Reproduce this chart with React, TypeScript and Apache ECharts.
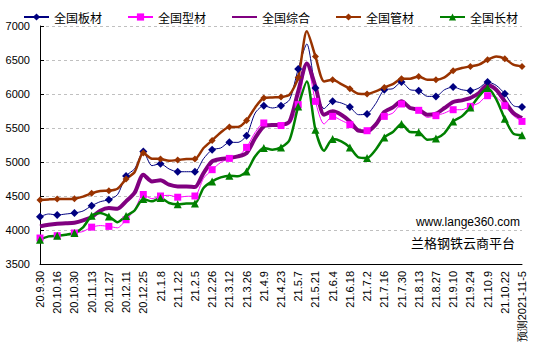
import React, { useEffect, useRef } from "react";
import * as echarts from "echarts";

const categories = [
  "20.9.30","20.10.9","20.10.16","20.10.23","20.10.30","20.11.6","20.11.13","20.11.20","20.11.27","20.12.4",
  "20.12.11","20.12.18","20.12.25","21.1.1","21.1.8","21.1.15","21.1.22","21.1.29","21.2.5","21.2.19",
  "21.2.26","21.3.5","21.3.12","21.3.19","21.3.26","21.4.2","21.4.9","21.4.16","21.4.23","21.4.30",
  "21.5.7","21.5.14","21.5.21","21.5.28","21.6.4","21.6.11","21.6.18","21.6.25","21.7.2","21.7.9",
  "21.7.16","21.7.23","21.7.30","21.8.6","21.8.13","21.8.20","21.8.27","21.9.3","21.9.10","21.9.17",
  "21.9.24","21.9.30","21.10.9","21.10.15","21.10.22","21.10.29","预测2021-11-5"
];

const banCai = [
  4196,4235,4221,4235,4250,4279,4357,4416,4446,4519,4794,4901,5156,4946,
  4975,4897,4857,4857,4857,5049,5181,5206,5289,5289,5387,5720,5828,5794,5828,
  5916,6368,6735,6087,5784,5892,5868,5809,5696,5706,5858,6063,6078,6176,
  6063,6049,5965,5965,6063,6103,6063,6049,6088,6176,6127,6004,5828,5809
];

const xingCai = [
  3882,3906,3916,3935,3956,3978,4042,4065,4053,4032,4151,4299,4522,4460,
  4500,4510,4482,4495,4500,4760,4887,4994,5053,5083,5215,5435,5574,5538,5536,
  5559,5843,6470,5892,5559,5671,5612,5549,5450,5460,5549,5671,5720,5853,
  5789,5760,5656,5681,5720,5769,5769,5818,5868,5975,5956,5828,5681,5597
];

const zongHe = [
  4053,4078,4093,4098,4107,4141,4191,4284,4323,4313,4421,4549,4813,4715,
  4730,4666,4641,4641,4632,4838,5009,5044,5058,5083,5132,5353,5524,5544,5545,
  5597,6038,6450,6112,5696,5745,5696,5597,5460,5450,5549,5735,5803,5892,
  5794,5769,5696,5711,5794,5882,5907,5941,6015,6137,6063,5892,5720,5647
];

const guanCai = [
  4441,4450,4456,4456,4460,4490,4539,4573,4578,4607,4750,4853,5132,5049,
  5044,5019,5029,5044,5044,5206,5318,5435,5515,5515,5612,5803,5941,5950,5955,
  5990,6244,6921,6553,6185,6210,6146,6078,6004,6000,6038,6097,6146,6225,
  6225,6259,6210,6210,6244,6343,6382,6406,6431,6504,6553,6519,6431,6406
];

const changCai = [
  3857,3906,3916,3931,3956,4039,4210,4250,4200,4115,4205,4290,4456,4421,
  4470,4397,4377,4390,4390,4618,4715,4774,4799,4789,4862,5083,5206,5181,5215,
  5328,5818,6185,5475,5166,5338,5304,5215,5068,5058,5181,5362,5441,5559,
  5441,5436,5328,5347,5426,5597,5671,5803,5965,6088,5926,5637,5416,5392
];

const seriesNames = ["全国板材", "全国型材", "全国综合", "全国管材", "全国长材"];

export default function App() {
  const ref = useRef<HTMLDivElement>(null);
  useEffect(() => {
    if (!ref.current) return;
    const chart = echarts.init(ref.current, null, { renderer: "svg" });
    const cjk = "'Noto Sans CJK SC', 'Noto Sans', sans-serif";
    const num = "'Liberation Sans', Arial, sans-serif";
    const smooth = 0.25;
    chart.setOption({
      animation: false,
      backgroundColor: "#ffffff",
      legend: {
        top: 6,
        left: 18,
        itemWidth: 25,
        itemHeight: 9,
        itemGap: 25,
        textStyle: { fontFamily: cjk, fontSize: 12, color: "#000" },
        data: [
          seriesNames[0],
          seriesNames[1],
          { name: seriesNames[2], itemStyle: { opacity: 0 } },
          seriesNames[3],
          seriesNames[4],
        ],
      },
      grid: { left: 40, right: 18, top: 26, bottom: 89 },
      xAxis: {
        type: "category",
        data: categories,
        boundaryGap: false,
        axisLine: { show: true, lineStyle: { color: "#000", width: 1 } },
        axisTick: { show: false },
        axisLabel: {
          interval: 1,
          rotate: 90,
          margin: 7,
          fontSize: 11,
          fontFamily: num,
          color: "#000",
        },
        splitLine: { show: false },
      },
      yAxis: {
        type: "value",
        min: 3500,
        max: 7000,
        interval: 500,
        axisLine: { show: true, lineStyle: { color: "#000", width: 1 } },
        axisTick: { show: true, inside: true, length: 4, lineStyle: { color: "#000" } },
        axisLabel: {
          fontSize: 11,
          fontFamily: num,
          color: "#000",
          margin: 10,
          formatter: (v: number) => String(v),
        },
        splitLine: { show: true, lineStyle: { color: "#c0c0c0", type: [3, 3], width: 1 } },
      },
      graphic: [
        {
          type: "text",
          right: 20,
          top: 216,
          style: { text: "www.lange360.com", fontSize: 12, fontFamily: num, fill: "#000" },
        },
        {
          type: "text",
          right: 25,
          top: 236,
          style: { text: "兰格钢铁云商平台", fontSize: 13, fontFamily: cjk, fill: "#000" },
        },
      ],
      series: [
        {
          name: seriesNames[0],
          type: "line",
          data: banCai,
          smooth,
          symbol: "diamond",
          symbolSize: 8,
          lineStyle: { color: "#000080", width: 1 },
          itemStyle: { color: "#000080" },
        },
        {
          name: seriesNames[1],
          type: "line",
          data: xingCai,
          smooth,
          symbol: "rect",
          symbolSize: 7,
          lineStyle: { color: "#ff00ff", width: 1 },
          itemStyle: { color: "#ff00ff" },
        },
        {
          name: seriesNames[2],
          type: "line",
          data: zongHe,
          smooth,
          symbol: "none",
          lineStyle: { color: "#800080", width: 4 },
          itemStyle: { color: "#800080" },
        },
        {
          name: seriesNames[3],
          type: "line",
          data: guanCai,
          smooth,
          symbol: "diamond",
          symbolSize: 7,
          lineStyle: { color: "#993300", width: 2.5 },
          itemStyle: { color: "#993300" },
        },
        {
          name: seriesNames[4],
          type: "line",
          data: changCai,
          smooth,
          symbol: "triangle",
          symbolSize: 8,
          lineStyle: { color: "#008000", width: 2.5 },
          itemStyle: { color: "#008000" },
        },
      ],
    });
    return () => chart.dispose();
  }, []);
  return (
    <div
      ref={ref}
      style={{ position: "fixed", left: 0, top: 0, width: 540, height: 353, background: "#fff" }}
    />
  );
}
